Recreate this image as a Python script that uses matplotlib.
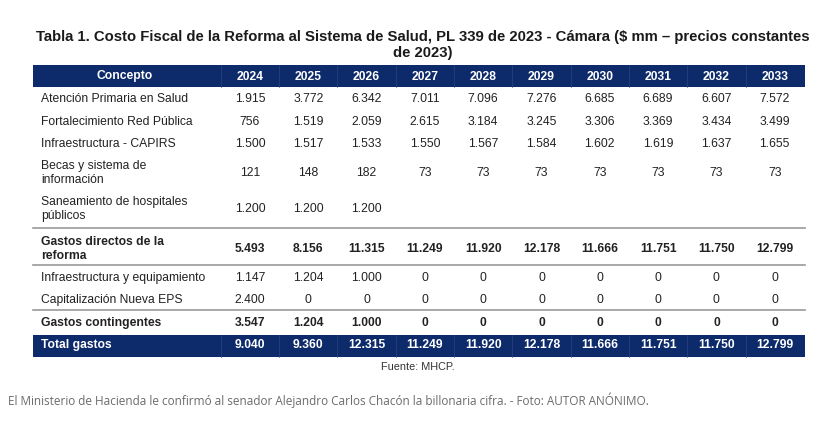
import matplotlib.pyplot as plt
from matplotlib import font_manager

years = ['2024', '2025', '2026', '2027', '2028', '2029', '2030', '2031', '2032', '2033']

conceptos = [
    'Atención Primaria en Salud',
    'Fortalecimiento Red Pública',
    'Infraestructura - CAPIRS',
    'Becas y sistema de\ninformación',
    'Saneamiento de hospitales\npúblicos',
    'Gastos directos de la\nreforma',
    'Infraestructura y equipamiento',
    'Capitalización Nueva EPS',
    'Gastos contingentes',
    'Total gastos',
]

atencion = ['1.915', '3.772', '6.342', '7.011', '7.096', '7.276', '6.685', '6.689', '6.607', '7.572']
fortalecimiento = ['756', '1.519', '2.059', '2.615', '3.184', '3.245', '3.306', '3.369', '3.434', '3.499']
capirs = ['1.500', '1.517', '1.533', '1.550', '1.567', '1.584', '1.602', '1.619', '1.637', '1.655']
becas = ['121', '148', '182', '73', '73', '73', '73', '73', '73', '73']
saneamiento = ['1.200', '1.200', '1.200', '', '', '', '', '', '', '']
directos = ['5.493', '8.156', '11.315', '11.249', '11.920', '12.178', '11.666', '11.751', '11.750', '12.799']
equipamiento = ['1.147', '1.204', '1.000', '0', '0', '0', '0', '0', '0', '0']
capitalizacion = ['2.400', '0', '0', '0', '0', '0', '0', '0', '0', '0']
contingentes = ['3.547', '1.204', '1.000', '0', '0', '0', '0', '0', '0', '0']
total = ['9.040', '9.360', '12.315', '11.249', '11.920', '12.178', '11.666', '11.751', '11.750', '12.799']

valores = [atencion, fortalecimiento, capirs, becas, saneamiento,
           directos, equipamiento, capitalizacion, contingentes, total]
negrita = [False, False, False, False, False, True, False, False, True, True]

titulo = ('Tabla 1. Costo Fiscal de la Reforma al Sistema de Salud, PL 339 de 2023 - Cámara '
          '($ mm – precios constantes\nde 2023)')
fuente = 'Fuente: MHCP.'
pie = ('El Ministerio de Hacienda le confirmó al senador Alejandro Carlos Chacón la billonaria cifra. '
       '- Foto: AUTOR ANÓNIMO.')

names = {f.name for f in font_manager.fontManager.ttflist}
narrow = 'Liberation Sans Narrow' if 'Liberation Sans Narrow' in names else 'Liberation Sans'
fam = [narrow, 'DejaVu Sans']
fs = 8.7 if narrow == 'Liberation Sans' else 10.5

navy = '#0d2a6b'

fig = plt.figure(figsize=(8.33, 4.26), dpi=100)
ax = fig.add_axes([0, 0, 1, 1])
ax.set_xlim(0, 833)
ax.set_ylim(426, 0)
ax.axis('off')

x_left, x_right = 33, 805
x_col0 = 250
dx = 58.3
row_y = [99, 122, 144, 173, 209, 249, 278, 300, 323, 345]

ax.text(423, 45, titulo, ha='center', va='center', fontsize=10.7, fontweight='bold',
        family=fam, color='#1a1a1a', linespacing=1.1)

# header bar
ax.fill_between([x_left, x_right], 65, 87, color=navy, lw=0)
ax.text(125, 76.5, 'Concepto', ha='center', va='center', fontsize=fs,
        fontweight='bold', color='white', family=fam)
for i, y in enumerate(years):
    xc = x_col0 + i * dx
    ax.text(xc, 76.5, y, ha='center', va='center', fontsize=fs,
            fontweight='bold', color='white', family=fam)
    ax.plot([xc - dx / 2, xc - dx / 2], [65, 87], color='#2a4580', lw=0.5)

# total bar
ax.fill_between([x_left, x_right], 335, 357, color=navy, lw=0)
for i in range(len(years)):
    xc = x_col0 + i * dx
    ax.plot([xc - dx / 2, xc - dx / 2], [335, 357], color='#2a4580', lw=0.5)

for y in [228, 265, 310]:
    ax.plot([x_left, x_right], [y, y], color='#9a9a9a', lw=1.2)

for r, (name, vals) in enumerate(zip(conceptos, valores)):
    yc = row_y[r]
    w = 'bold' if negrita[r] else 'normal'
    col = 'white' if r == len(conceptos) - 1 else '#222222'
    ax.text(41, yc, name, ha='left', va='center', fontsize=fs, fontweight=w,
            color=col, family=fam, linespacing=1.15)
    for i, v in enumerate(vals):
        ax.text(x_col0 + i * dx, yc, v, ha='center', va='center', fontsize=fs,
                fontweight=w, color=col, family=fam)

ax.text(418, 367, fuente, ha='center', va='center', fontsize=7.8, color='#333333', family=fam)
ax.text(8, 400, pie, ha='left', va='center', fontsize=8.5, color='#6b6b6b',
        family=['Open Sans', 'DejaVu Sans'])

fig.savefig('out.png', dpi=100)
